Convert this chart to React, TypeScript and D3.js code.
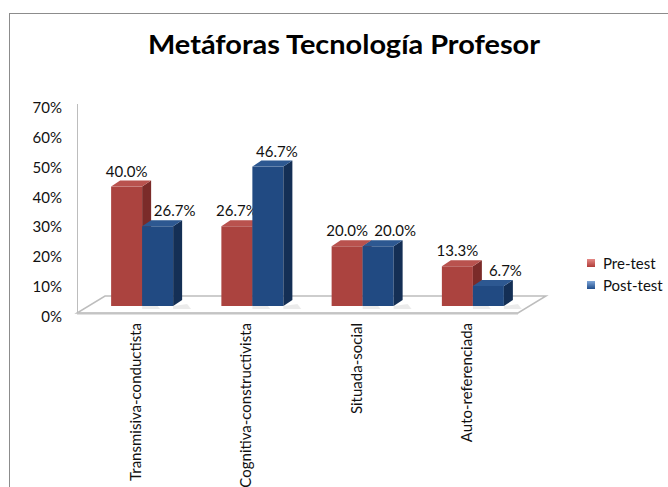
import React from 'react';
import * as d3 from 'd3';

const categories = ['Transmisiva-conductista', 'Cognitiva-constructivista', 'Situada-social', 'Auto-referenciada'];
const seriesNames = ['Pre-test', 'Post-test'];
const preTest = [0.4, 0.267, 0.2, 0.133];
const postTest = [0.267, 0.467, 0.2, 0.067];
const yTicks = [0, 0.1, 0.2, 0.3, 0.4, 0.5, 0.6, 0.7];

const FONT = 'Lato, "Liberation Sans", sans-serif';

// colours for front / side / top faces
const faces = [
  { front: '#ab433f', side: '#7b2b29', top: '#b9524e' },
  { front: '#214a82', side: '#142f55', top: '#2d5891' },
];

const App = () => {
  const width = 668, height = 487;
  const floorLeft = 77, floorRight = 518, floorY = 313;
  const depthX = 28, depthY = -17; // floor depth
  const barShiftX = 10, barShiftY = -7; // bars sit inside the floor
  const sideX = 9, sideY = -6; // bar depth

  const y = d3.scaleLinear().domain([0, 0.7]).range([floorY, 104]);
  const x = d3.scaleBand().domain(categories).range([floorLeft, floorRight]);
  const groupW = 62;
  const inner = d3.scaleBand().domain(seriesNames).range([0, groupW]);
  const values = [preTest, postTest];
  const fmt = d3.format('.1%');

  const bars: any[] = [];
  categories.forEach((c, i) => {
    seriesNames.forEach((s, k) => {
      const v = values[k][i];
      const x0 = (x(c) as number) + (x.bandwidth() - groupW) / 2 + (inner(s) as number) + barShiftX;
      const w = inner.bandwidth();
      const bottom = y(0) + barShiftY;
      const top = y(v) + barShiftY;
      const f = faces[k];
      const other = values[1 - k][i];
      const labelDx = k === 0 ? 0 : (v > other ? 9 : 17);
      bars.push(
        <g key={c + s}>
          <polygon
            points={`${x0 + w},${bottom} ${x0 + w + 14},${bottom - 2} ${x0 + w + 18},${bottom + 3} ${x0 + w},${bottom + 3}`}
            fill="#000" opacity={0.08}
          />
          <rect x={x0} y={top} width={w} height={bottom - top} fill={f.front} />
          <polygon
            points={`${x0 + w},${top} ${x0 + w + sideX},${top + sideY} ${x0 + w + sideX},${bottom + sideY} ${x0 + w},${bottom}`}
            fill={f.side}
          />
          <polygon
            points={`${x0},${top} ${x0 + sideX},${top + sideY} ${x0 + w + sideX},${top + sideY} ${x0 + w},${top}`}
            fill={f.top}
          />
          <text x={x0 + w / 2 + labelDx} y={top - 10} textAnchor="middle" fontSize={15} fontFamily={FONT} fill="#111">
            {fmt(v)}
          </text>
        </g>
      );
    });
  });

  return (
    <svg width={width} height={height} style={{ position: 'absolute', left: 0, top: 0 }}>
      <defs>
        <linearGradient id="lgRed" x1="0" y1="0" x2="0" y2="1">
          <stop offset="0" stopColor="#e58a87" />
          <stop offset="1" stopColor="#b03c38" />
        </linearGradient>
        <linearGradient id="lgBlue" x1="0" y1="0" x2="0" y2="1">
          <stop offset="0" stopColor="#7fa6d8" />
          <stop offset="1" stopColor="#1f4d8c" />
        </linearGradient>
      </defs>
      <rect x={0} y={0} width={width} height={height} fill="#fff" />
      <rect x={9.5} y={13.5} width={700} height={520} fill="#fff" stroke="#8c8c8c" />

      <text x={344} y={54} textAnchor="middle" fontSize={27} fontWeight="bold" fontFamily={FONT}
        textLength={392} lengthAdjust="spacingAndGlyphs" fill="#000">
        Metáforas Tecnología Profesor
      </text>

      {/* floor */}
      <polygon
        points={`${floorLeft},${floorY} ${floorRight},${floorY} ${floorRight + depthX},${floorY + depthY} ${floorLeft + depthX},${floorY + depthY}`}
        fill="#fff" stroke="#bdbdbd" strokeWidth={1.5}
      />
      <line x1={floorLeft} x2={floorRight} y1={floorY + 0.5} y2={floorY + 0.5} stroke="#c4c4c4" strokeWidth={2} />
      <line x1={floorLeft + 0.5} x2={floorLeft + 0.5} y1={y(0.7)} y2={floorY} stroke="#bdbdbd" />

      {yTicks.map(t => (
        <text key={t} x={62} y={y(t) + 3} textAnchor="end" dominantBaseline="central" fontSize={15} fontFamily={FONT} fill="#111">
          {d3.format('.0%')(t)}
        </text>
      ))}

      {bars}

      {categories.map(c => (
        <text key={c} transform={`translate(${(x(c) as number) + x.bandwidth() / 2 + 9},323) rotate(-90)`}
          textAnchor="end" fontSize={15} fontFamily={FONT} fill="#111">
          {c}
        </text>
      ))}

      {seriesNames.map((s, k) => (
        <g key={s} transform={`translate(587,${259 + k * 22})`}>
          <rect x={0} y={0} width={8} height={8} fill={k === 0 ? 'url(#lgRed)' : 'url(#lgBlue)'} />
          <text x={16} y={4} dominantBaseline="central" fontSize={15} fontFamily={FONT} fill="#111">{s}</text>
        </g>
      ))}
    </svg>
  );
};

export default App;
